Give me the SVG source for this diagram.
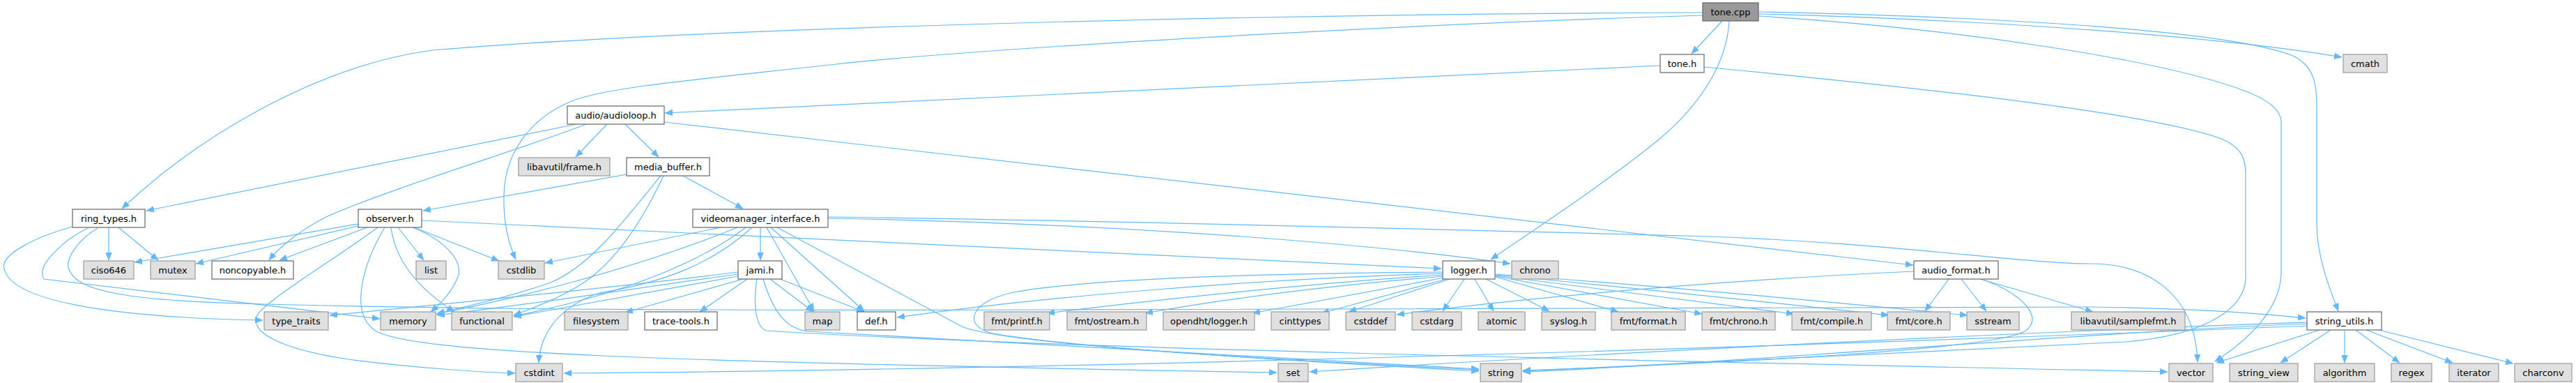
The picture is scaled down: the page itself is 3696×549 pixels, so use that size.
<svg xmlns="http://www.w3.org/2000/svg" width="3696" height="549" viewBox="0 0 3696 549">
<style>
.n rect{stroke-width:1.2}
.doc rect{fill:#ffffff;stroke:#666666}
.ext rect{fill:#e0e0e0;stroke:#999999}
.root rect{fill:#999999;stroke:#666666}
.n text{font-family:"DejaVu Sans","Liberation Sans",sans-serif;font-size:13px;text-anchor:middle;fill:#000000}
#edges path{fill:none;stroke:#63b8ff;stroke-width:1.2;marker-end:url(#a)}
</style>
<defs>
<marker id="a" viewBox="0 0 11 9" refX="11" refY="4.5" markerWidth="11" markerHeight="9" markerUnits="userSpaceOnUse" orient="auto">
<path d="M0,0 L11,4.5 L0,9 z" fill="#63b8ff" stroke="#63b8ff" stroke-width="0.5"/>
</marker>
</defs>
<rect x="0" y="0" width="3696" height="549" fill="#ffffff"/>
<g id="edges">
<path d="M2471,30 L2427,77"/>
<path d="M2443,18 C1800,20 1000,40 620,72 C450,95 280,200 175,299"/>
<path d="M2443,22 C2000,35 1400,70 1200,92 C1000,114 870,125 820,145 C760,170 724,220 723,280 C722,320 730,350 740,372"/>
<path d="M2481,30 C2478,90 2440,150 2380,200 C2300,265 2200,330 2139,372"/>
<path d="M2523,17 C2900,25 3200,45 3290,80 C3320,95 3324,120 3324,150 L3324,320 C3324,370 3345,420 3355,446"/>
<path d="M2523,20 C2900,30 3200,55 3360,82"/>
<path d="M2523,23 C2800,40 3100,85 3220,130 C3260,145 3273,160 3273,175 L3273,390 C3273,440 3230,485 3178,518"/>
<path d="M2382,94 L954,162"/>
<path d="M2445,96 C2800,130 3100,165 3190,200 C3215,212 3222,225 3222,250 L3222,400 C3220,440 3170,480 3050,490 C2700,505 2400,522 2185,532"/>
<path d="M827,178 L210,302"/>
<path d="M841,178 C760,210 560,270 470,310 C430,330 400,355 386,373"/>
<path d="M871,178 L826,225"/>
<path d="M897,178 L945,225"/>
<path d="M953,175 L2745,380"/>
<path d="M899,250 L607,302"/>
<path d="M980,252 L1066,299"/>
<path d="M948,252 C900,310 850,380 790,405 C720,430 660,440 627,450"/>
<path d="M952,252 C920,320 880,380 830,410 C800,428 770,440 737,452"/>
<path d="M514,321 L193,376"/>
<path d="M514,324 L281,378"/>
<path d="M527,326 L401,373"/>
<path d="M542,326 C490,365 390,425 370,450 C355,475 400,500 500,515 C600,528 700,534 739,535"/>
<path d="M552,326 C520,380 500,450 540,475 C600,505 900,518 1832,534"/>
<path d="M561,326 C568,380 610,420 652,447"/>
<path d="M571,326 L608,373"/>
<path d="M592,326 C640,345 665,375 657,397 C648,420 632,435 618,447"/>
<path d="M594,326 L716,374"/>
<path d="M605,316 L2068,385"/>
<path d="M1034,326 L782,377"/>
<path d="M1058,326 C900,390 720,432 626,450"/>
<path d="M1070,326 C1000,380 880,425 737,453"/>
<path d="M1079,326 C1020,380 950,405 860,420 C800,440 775,480 773,520"/>
<path d="M1091,326 L1091,373"/>
<path d="M1100,326 L1168,446"/>
<path d="M1106,326 L1240,446"/>
<path d="M1115,326 L1380,468 C1420,485 1600,505 2122,530"/>
<path d="M1188,313 C1500,318 1900,340 2167,378"/>
<path d="M1188,311 C1700,318 2100,330 2420,338 C2700,346 2900,378 3000,378 C3080,378 3150,420 3153,519"/>
<path d="M1059,390 C900,410 700,430 473,452"/>
<path d="M1059,393 C900,415 750,438 627,452"/>
<path d="M1059,396 C950,415 820,440 737,454"/>
<path d="M1066,400 L897,448"/>
<path d="M1072,400 L1004,447"/>
<path d="M1105,400 L1167,447"/>
<path d="M1119,400 L1240,447"/>
<path d="M1095,400 C1110,450 1130,472 1160,475 C1400,490 1900,515 2122,529"/>
<path d="M1086,400 C1080,440 1085,470 1100,474 C1500,500 2500,520 3110,533"/>
<path d="M2070,390 C1800,392 1550,400 1450,420 C1385,435 1385,470 1425,478 C1550,500 1900,520 2122,532"/>
<path d="M2070,392 C1800,400 1500,425 1287,455"/>
<path d="M2070,394 C1900,405 1700,425 1502,449"/>
<path d="M2071,396 C1900,410 1750,430 1643,449"/>
<path d="M2072,398 L1797,449"/>
<path d="M2075,400 L1896,449"/>
<path d="M2080,400 L1935,447"/>
<path d="M2101,400 L2070,446"/>
<path d="M2116,400 L2143,446"/>
<path d="M2132,400 L2223,446"/>
<path d="M2146,397 L2322,447"/>
<path d="M2146,396 L2442,450"/>
<path d="M2146,395 C2350,420 2500,440 2574,450"/>
<path d="M2146,394 C2400,418 2600,440 2710,452"/>
<path d="M2146,393 C2450,415 2700,440 2823,452"/>
<path d="M2746,389 C2500,400 2200,425 2004,451"/>
<path d="M2796,400 L2762,446"/>
<path d="M2814,400 L2850,446"/>
<path d="M2841,400 L3003,447"/>
<path d="M2843,400 C2900,420 2935,455 2905,475 C2860,500 2500,520 2185,531"/>
<path d="M156,326 L156,373"/>
<path d="M170,326 L227,373"/>
<path d="M104,325 C50,340 0,365 6,385 C15,430 150,455 377,459"/>
<path d="M126,327 C95,342 50,380 63,400 L545,457"/>
<path d="M140,327 C110,345 90,375 101,390 C115,420 200,432 380,436 C700,444 1000,445 1500,444 C2200,442 2800,438 3000,440 C3150,442 3250,450 3308,456"/>
<path d="M3328,473 L3180,520"/>
<path d="M3344,473 L3272,520"/>
<path d="M3364,473 L3364,520"/>
<path d="M3380,473 L3443,520"/>
<path d="M3395,473 L3519,520"/>
<path d="M3413,473 L3606,521"/>
<path d="M3310,464 C3000,476 2500,520 2185,533"/>
<path d="M3310,462 C2800,480 2200,512 1879,533"/>
<path d="M3310,467 C2500,500 1500,530 809,535"/>
</g>
<g id="n_tone_cpp" class="n root"><rect x="2443" y="4" width="80" height="26"/><text x="2483" y="21.5">tone.cpp</text></g>
<g id="n_tone_h" class="n doc"><rect x="2382" y="78" width="63" height="26"/><text x="2413.5" y="95.5">tone.h</text></g>
<g id="n_cmath" class="n ext"><rect x="3362" y="78" width="63" height="26"/><text x="3393.5" y="95.5">cmath</text></g>
<g id="n_audioloop" class="n doc"><rect x="814" y="152" width="139" height="26"/><text x="883.5" y="169.5">audio/audioloop.h</text></g>
<g id="n_frame" class="n ext"><rect x="744" y="226" width="131" height="26"/><text x="809.5" y="243.5">libavutil/frame.h</text></g>
<g id="n_media_buffer" class="n doc"><rect x="899" y="226" width="119" height="26"/><text x="958.5" y="243.5">media_buffer.h</text></g>
<g id="n_ring_types" class="n doc"><rect x="104" y="300" width="104" height="26"/><text x="156" y="317.5">ring_types.h</text></g>
<g id="n_observer" class="n doc"><rect x="514" y="300" width="91" height="26"/><text x="559.5" y="317.5">observer.h</text></g>
<g id="n_videomanager" class="n doc"><rect x="994" y="300" width="194" height="26"/><text x="1091" y="317.5">videomanager_interface.h</text></g>
<g id="n_ciso646" class="n ext"><rect x="120" y="374" width="72" height="26"/><text x="156" y="391.5">ciso646</text></g>
<g id="n_mutex" class="n ext"><rect x="216" y="374" width="64" height="26"/><text x="248" y="391.5">mutex</text></g>
<g id="n_noncopyable" class="n doc"><rect x="304" y="374" width="117" height="26"/><text x="362.5" y="391.5">noncopyable.h</text></g>
<g id="n_list" class="n ext"><rect x="597" y="374" width="43" height="26"/><text x="618.5" y="391.5">list</text></g>
<g id="n_cstdlib" class="n ext"><rect x="715" y="374" width="66" height="26"/><text x="748" y="391.5">cstdlib</text></g>
<g id="n_jami" class="n doc"><rect x="1059" y="374" width="63" height="26"/><text x="1090.5" y="391.5">jami.h</text></g>
<g id="n_logger" class="n doc"><rect x="2070" y="374" width="75" height="26"/><text x="2107.5" y="391.5">logger.h</text></g>
<g id="n_chrono" class="n ext"><rect x="2169" y="374" width="67" height="26"/><text x="2202.5" y="391.5">chrono</text></g>
<g id="n_audio_format" class="n doc"><rect x="2746" y="374" width="121" height="26"/><text x="2806.5" y="391.5">audio_format.h</text></g>
<g id="n_type_traits" class="n ext"><rect x="379" y="447" width="92" height="26"/><text x="425" y="464.5">type_traits</text></g>
<g id="n_memory" class="n ext"><rect x="546" y="447" width="79" height="26"/><text x="585.5" y="464.5">memory</text></g>
<g id="n_functional" class="n ext"><rect x="648" y="447" width="87" height="26"/><text x="691.5" y="464.5">functional</text></g>
<g id="n_filesystem" class="n ext"><rect x="810" y="447" width="91" height="26"/><text x="855.5" y="464.5">filesystem</text></g>
<g id="n_trace_tools" class="n doc"><rect x="925" y="447" width="104" height="26"/><text x="977" y="464.5">trace-tools.h</text></g>
<g id="n_map" class="n ext"><rect x="1155" y="447" width="50" height="26"/><text x="1180" y="464.5">map</text></g>
<g id="n_def" class="n doc"><rect x="1230" y="447" width="55" height="26"/><text x="1257.5" y="464.5">def.h</text></g>
<g id="n_fmt_printf" class="n ext"><rect x="1412" y="447" width="94" height="26"/><text x="1459" y="464.5">fmt/printf.h</text></g>
<g id="n_fmt_ostream" class="n ext"><rect x="1531" y="447" width="114" height="26"/><text x="1588" y="464.5">fmt/ostream.h</text></g>
<g id="n_opendht_logger" class="n ext"><rect x="1669" y="447" width="131" height="26"/><text x="1734.5" y="464.5">opendht/logger.h</text></g>
<g id="n_cinttypes" class="n ext"><rect x="1824" y="447" width="83" height="26"/><text x="1865.5" y="464.5">cinttypes</text></g>
<g id="n_cstddef" class="n ext"><rect x="1931" y="447" width="71" height="26"/><text x="1966.5" y="464.5">cstddef</text></g>
<g id="n_cstdarg" class="n ext"><rect x="2026" y="447" width="71" height="26"/><text x="2061.5" y="464.5">cstdarg</text></g>
<g id="n_atomic" class="n ext"><rect x="2121" y="447" width="67" height="26"/><text x="2154.5" y="464.5">atomic</text></g>
<g id="n_syslog" class="n ext"><rect x="2212" y="447" width="77" height="26"/><text x="2250.5" y="464.5">syslog.h</text></g>
<g id="n_fmt_format" class="n ext"><rect x="2312" y="447" width="106" height="26"/><text x="2365" y="464.5">fmt/format.h</text></g>
<g id="n_fmt_chrono" class="n ext"><rect x="2442" y="447" width="105" height="26"/><text x="2494.5" y="464.5">fmt/chrono.h</text></g>
<g id="n_fmt_compile" class="n ext"><rect x="2571" y="447" width="114" height="26"/><text x="2628" y="464.5">fmt/compile.h</text></g>
<g id="n_fmt_core" class="n ext"><rect x="2708" y="447" width="90" height="26"/><text x="2753" y="464.5">fmt/core.h</text></g>
<g id="n_sstream" class="n ext"><rect x="2822" y="447" width="75" height="26"/><text x="2859.5" y="464.5">sstream</text></g>
<g id="n_samplefmt" class="n ext"><rect x="2972" y="447" width="163" height="26"/><text x="3053.5" y="464.5">libavutil/samplefmt.h</text></g>
<g id="n_string_utils" class="n doc"><rect x="3310" y="447" width="107" height="26"/><text x="3363.5" y="464.5">string_utils.h</text></g>
<g id="n_cstdint" class="n ext"><rect x="740" y="521" width="67" height="26"/><text x="773.5" y="538.5">cstdint</text></g>
<g id="n_set" class="n ext"><rect x="1834" y="521" width="43" height="26"/><text x="1855.5" y="538.5">set</text></g>
<g id="n_string" class="n ext"><rect x="2124" y="521" width="59" height="26"/><text x="2153.5" y="538.5">string</text></g>
<g id="n_vector" class="n ext"><rect x="3112" y="521" width="63" height="26"/><text x="3143.5" y="538.5">vector</text></g>
<g id="n_string_view" class="n ext"><rect x="3199" y="521" width="98" height="26"/><text x="3248" y="538.5">string_view</text></g>
<g id="n_algorithm" class="n ext"><rect x="3321" y="521" width="86" height="26"/><text x="3364" y="538.5">algorithm</text></g>
<g id="n_regex" class="n ext"><rect x="3431" y="521" width="58" height="26"/><text x="3460" y="538.5">regex</text></g>
<g id="n_iterator" class="n ext"><rect x="3514" y="521" width="71" height="26"/><text x="3549.5" y="538.5">iterator</text></g>
<g id="n_charconv" class="n ext"><rect x="3608" y="521" width="82" height="26"/><text x="3649" y="538.5">charconv</text></g>
</svg>
